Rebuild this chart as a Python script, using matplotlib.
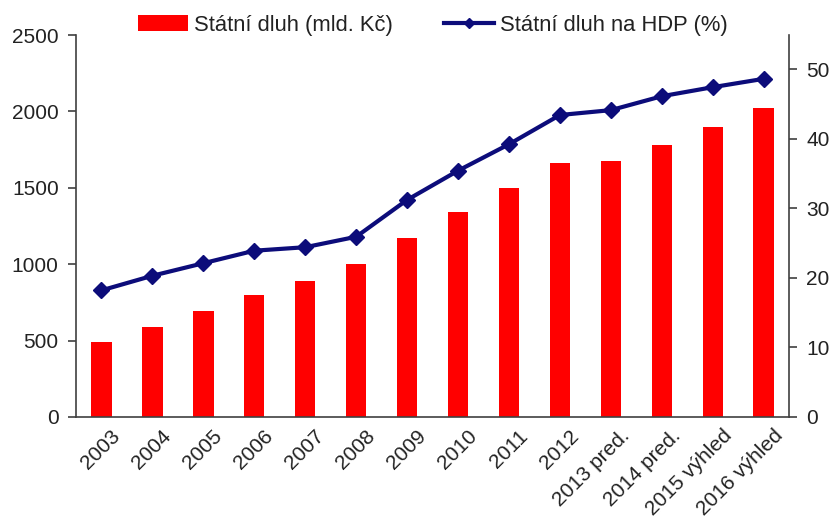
import matplotlib.pyplot as plt
import matplotlib.transforms as mtransforms
import numpy as np

plt.rcParams['font.family'] = ['Liberation Sans', 'DejaVu Sans']

# data
years = ['2003', '2004', '2005', '2006', '2007', '2008', '2009', '2010',
         '2011', '2012', '2013 pred.', '2014 pred.', '2015 výhled', '2016 výhled']
debt = [493, 591, 692, 800, 892, 999, 1174, 1342, 1499, 1664, 1673, 1782, 1896, 2020]
debtGdp = [18.2, 20.3, 22.1, 23.9, 24.4, 25.9, 31.2, 35.4, 39.2, 43.4, 44.1, 46.1, 47.4, 48.6]

red = '#ff0000'
navy = '#0c0c7a'
axcol = '#404040'

fig = plt.figure(figsize=(8.37, 5.24), dpi=100)
ax = fig.add_axes([0.0908, 0.2042, 0.852, 0.729])
ax2 = ax.twinx()

x = np.arange(len(years))
bars = ax.bar(x, debt, width=0.4, color=red, label='Státní dluh (mld. Kč)', zorder=2)
line, = ax2.plot(x, debtGdp, color=navy, lw=3, marker='D', ms=8,
                 label='Státní dluh na HDP (%)', zorder=3)

ax.set_xlim(-0.5, len(years) - 0.5)
ax.set_ylim(0, 2500)
ax2.set_ylim(0, 54.9)
ax.set_yticks([0, 500, 1000, 1500, 2000, 2500])
ax2.set_yticks([0, 10, 20, 30, 40, 50])

for a in (ax, ax2):
    a.spines['top'].set_visible(False)
    for s in a.spines.values():
        s.set_color(axcol)
        s.set_linewidth(1.2)
    a.tick_params(axis='y', labelsize=15, colors=axcol, labelcolor='#222222',
                  length=6, width=1.2, direction='out', pad=6.5)
ax.tick_params(axis='x', labelsize=15, length=0, labelcolor='#222222')
ax.spines['right'].set_visible(False)
ax2.spines['left'].set_visible(False)
ax2.spines['bottom'].set_visible(False)

# x labels: rotated, shifted a bit right/down like the original
ax.set_xticks(x)
ax.set_xticklabels(years, rotation=45, ha='right', rotation_mode='anchor', va='center')
offset = mtransforms.ScaledTranslation(0.16, -0.11, fig.dpi_scale_trans)
for lab in ax.get_xticklabels():
    lab.set_transform(lab.get_transform() + offset)

fig.legend([bars, line], ['Státní dluh (mld. Kč)', 'Státní dluh na HDP (%)'],
           loc='upper left', bbox_to_anchor=(0.141, 1.01), ncol=2, frameon=False,
           fontsize=15.8, handlelength=2.3, handleheight=0.7, columnspacing=2.3,
           handletextpad=0.27, labelcolor='#222222', markerscale=0.7)

fig.savefig('out.png', dpi=100)
